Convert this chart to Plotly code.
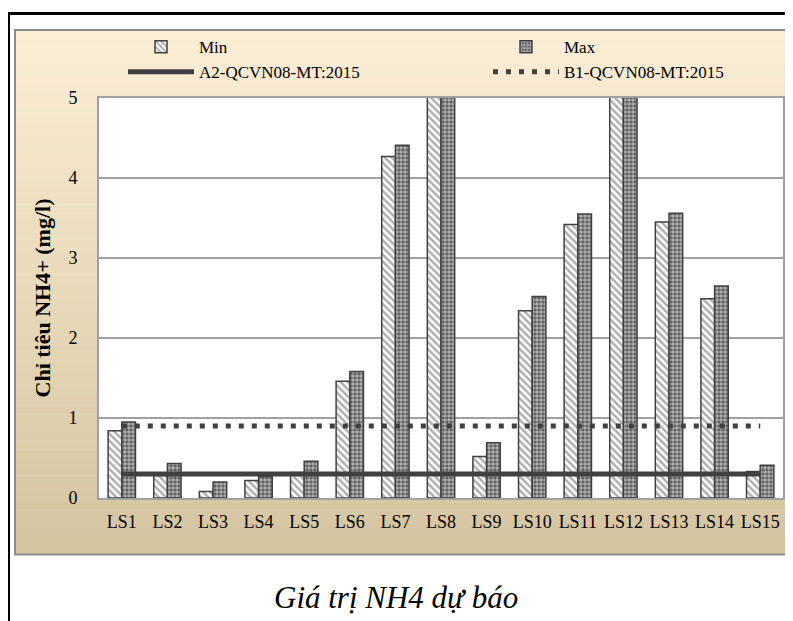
import plotly.graph_objects as go

categories = ["LS1", "LS2", "LS3", "LS4", "LS5", "LS6", "LS7", "LS8", "LS9",
              "LS10", "LS11", "LS12", "LS13", "LS14", "LS15"]
min_values = [0.84, 0.28, 0.08, 0.22, 0.32, 1.46, 4.27, 6.5, 0.52,
              2.34, 3.42, 6.5, 3.45, 2.49, 0.33]
max_values = [0.95, 0.43, 0.20, 0.27, 0.46, 1.58, 4.41, 7.0, 0.69,
              2.52, 3.55, 7.0, 3.56, 2.65, 0.41]
a2_limit = 0.3
b1_limit = 0.9
y_ticks = [0, 1, 2, 3, 4, 5]

# page is offset by the 8px body margin
OFF = 8
W, H = 793 - OFF, 621 - OFF
# plot area in screen pixels: left 99, right 783, top 98, bottom 498.5
L = 99 - OFF
T = 98 - OFF
R = W - (783 - OFF)
B = H - (498.5 - OFF)
PW, PH = W - L - R, H - T - B


def px_x(p):
    return (p - OFF - L) / PW


def px_y(p):
    return (H - B - (p - OFF)) / PH


FONT = "Liberation Serif"
DARK = "#404040"

fig = go.Figure()
fig.add_trace(go.Bar(
    name="Min", x=categories, y=min_values, legend="legend",
    marker=dict(color="white", line=dict(color=DARK, width=1.5),
                pattern=dict(shape="\\", fgcolor="#606060", bgcolor="white",
                             size=5, solidity=0.5)),
))
fig.add_trace(go.Bar(
    name="Max", x=categories, y=max_values, legend="legend2",
    marker=dict(color="#5a5a5a", line=dict(color=DARK, width=1.5),
                pattern=dict(shape=".", fgcolor="white", bgcolor="#5a5a5a",
                             size=4, solidity=0.62)),
))
fig.add_trace(go.Scatter(
    name="A2-QCVN08-MT:2015", x=categories, y=[a2_limit] * len(categories),
    mode="lines", line=dict(color=DARK, width=5), legend="legend",
))
fig.add_trace(go.Scatter(
    name="B1-QCVN08-MT:2015", x=categories, y=[b1_limit] * len(categories),
    mode="lines", line=dict(color=DARK, width=5, dash="5px,8px"), legend="legend2",
))

shapes = []
# beige gradient chart area
top_c = (252, 238, 213)
bot_c = (212, 196, 160)
y_top, y_bot = 30, 555
n = 60
for i in range(n):
    t = i / (n - 1)
    c = tuple(int(round(top_c[k] + (bot_c[k] - top_c[k]) * t)) for k in range(3))
    ya = y_top + (y_bot - y_top) * i / n
    yb = y_top + (y_bot - y_top) * (i + 1) / n
    shapes.append(dict(type="rect", xref="paper", yref="paper", layer="below",
                       x0=px_x(15), x1=px_x(805), y0=px_y(yb), y1=px_y(ya) + 0.001,
                       fillcolor="rgb(%d,%d,%d)" % c, line=dict(width=0)))
shapes.append(dict(type="rect", xref="paper", yref="paper", layer="below",
                   x0=px_x(15), x1=px_x(805), y0=px_y(y_bot), y1=px_y(y_top),
                   fillcolor="rgba(0,0,0,0)", line=dict(color="#8c8c8c", width=2)))
# white plot area
shapes.append(dict(type="rect", xref="x domain", yref="y domain", layer="below",
                   x0=0, x1=1, y0=0, y1=1, fillcolor="white", line=dict(width=0)))
# outer black frame
shapes.append(dict(type="line", xref="paper", yref="paper", layer="above",
                   x0=px_x(8.5), x1=px_x(8.5), y0=px_y(640), y1=px_y(12),
                   line=dict(color="black", width=3)))
shapes.append(dict(type="line", xref="paper", yref="paper", layer="above",
                   x0=px_x(7), x1=px_x(805), y0=px_y(13.5), y1=px_y(13.5),
                   line=dict(color="black", width=3)))

legend_common = dict(orientation="v", xanchor="left", yanchor="top",
                     bgcolor="rgba(0,0,0,0)", itemwidth=66, tracegroupgap=0,
                     font=dict(family=FONT, size=17, color="black"))

fig.update_layout(
    width=W, height=H,
    margin=dict(l=L, r=R, t=T, b=B, autoexpand=False),
    paper_bgcolor="white", plot_bgcolor="white",
    font=dict(family=FONT, size=17, color="black"),
    barmode="group", bargap=0.4, bargroupgap=0,
    shapes=shapes,
    showlegend=True,
    legend=dict(x=px_x(123), y=px_y(29), **legend_common),
    legend2=dict(x=px_x(488), y=px_y(29), **legend_common),
    annotations=[dict(text="Giá trị NH4 dự báo", xref="paper", yref="paper",
                      x=px_x(396), y=px_y(598), xanchor="center", yanchor="middle",
                      showarrow=False,
                      font=dict(family=FONT, size=31, color="black", style="italic"))],
)
fig.update_xaxes(showgrid=False, showline=True, linecolor="#a0a0a0", linewidth=2,
                 mirror=True, ticks="", ticklabelstandoff=6,
                 tickfont=dict(family=FONT, size=18))
fig.update_yaxes(range=[0, 5], tickvals=y_ticks, showgrid=True, gridcolor="#a0a0a0",
                 gridwidth=1.5, showline=True, linecolor="#a0a0a0", linewidth=2,
                 mirror=True, ticks="", ticklabelstandoff=16, zeroline=False,
                 tickfont=dict(family=FONT, size=18),
                 title=dict(text="<b>Chỉ tiêu NH4+ (mg/l)</b>", standoff=12,
                            font=dict(family=FONT, size=22)))

fig.write_html("out.html")
